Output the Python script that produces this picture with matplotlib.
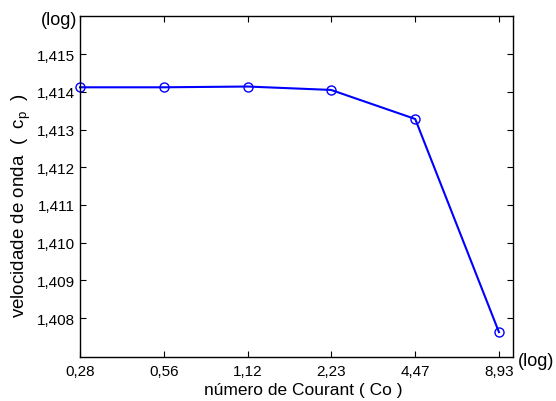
import matplotlib
matplotlib.use('Agg')
import matplotlib.pyplot as plt

plt.rcParams['font.family'] = ['Liberation Sans', 'DejaVu Sans']
plt.rcParams['mathtext.default'] = 'regular'

# data
courant = [0.28, 0.56, 1.12, 2.23, 4.47, 8.93]
cp = [1.41412, 1.41412, 1.41414, 1.41405, 1.41328, 1.40763]
xlabels = ['0,28', '0,56', '1,12', '2,23', '4,47', '8,93']
yticks = [1.408, 1.409, 1.410, 1.411, 1.412, 1.413, 1.414, 1.415]

fig = plt.figure(figsize=(5.56, 4.02), dpi=100)
ax = fig.add_axes([80/556, 1 - 358/402, (513-80)/556, (358-17)/402])

ax.plot(courant, cp, '-o', color='#0000ff', lw=1.5, mfc='none', ms=6.5, mew=1, clip_on=False)
ax.set_xscale('log')
ax.set_xlim(0.28, 10.03)
ax.set_ylim(1.40697, 1.41601)
ax.set_xticks(courant)
ax.set_xticklabels(xlabels)
ax.minorticks_off()
ax.set_yticks(yticks)
ax.set_yticklabels([('%.3f' % v).replace('.', ',') for v in yticks])
ax.tick_params(direction='in', length=4, labelsize=11, top=True, right=True, width=0.8)
ax.tick_params(axis='x', pad=5)
for s in ax.spines.values():
    s.set_linewidth(1)

ax.set_xlabel('número de Courant ( Co )', fontsize=12.5)
ax.xaxis.set_label_coords(0.515, -0.072)
ax.set_ylabel('velocidade de onda  (  c$_{p}$  )', fontsize=13.5)
ax.yaxis.set_label_coords(-0.108, 0.446)
ax.text(-3/433, 1 - 3/341, '(log)', transform=ax.transAxes, ha='right', va='center', fontsize=13)
ax.text(1 + 5/433, -4/341, '(log)', transform=ax.transAxes, ha='left', va='center', fontsize=13)

fig.savefig('out.png', dpi=100)
